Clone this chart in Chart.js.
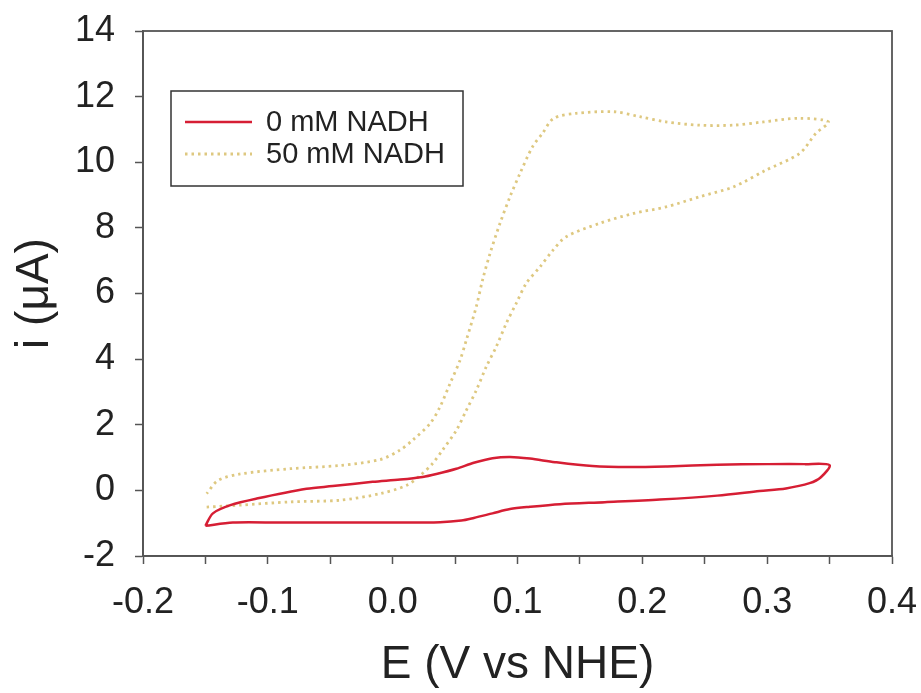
<!DOCTYPE html>
<html>
<head>
<meta charset="utf-8">
<script src="https://cdn.jsdelivr.net/npm/chart.js@4/dist/chart.umd.min.js"></script>
<style>
	body { margin: 0; background: #fff; }
	#wrap { width: 921px; height: 693px; position: relative; }
</style>
</head>
<body>
<div id="wrap"><canvas id="cv_chart"></canvas></div>
<script>
// axis ticks
var x_ticks = [-0.2, -0.1, 0.0, 0.1, 0.2, 0.3, 0.4];
var y_ticks = [-2, 0, 2, 4, 6, 8, 10, 12, 14];

var series_names = ['0 mM NADH', '50 mM NADH'];

// 0 mM NADH (E in V, i in uA)
var e_0mm = [-0.150, -0.128, -0.090, -0.045, 0.000, 0.038, 0.055, 0.065, 0.080, 0.094, 0.110, 0.134, 0.170, 0.214, 0.260, 0.294, 0.315, 0.334, 0.343, 0.350,
	0.330, 0.300, 0.260, 0.220, 0.190, 0.160, 0.130, 0.110, 0.094, 0.080, 0.065, 0.051, 0.035, 0.024, 0.006, -0.016, -0.048, -0.069, -0.109, -0.130, -0.144, -0.150];
var i_0mm = [-1.08, -0.98, -0.98, -0.98, -0.98, -0.97, -0.92, -0.84, -0.70, -0.57, -0.50, -0.42, -0.36, -0.28, -0.16, -0.02, 0.06, 0.22, 0.40, 0.77,
	0.80, 0.80, 0.78, 0.73, 0.71, 0.74, 0.86, 0.97, 1.02, 0.98, 0.84, 0.66, 0.50, 0.41, 0.33, 0.26, 0.13, 0.05, -0.25, -0.45, -0.70, -1.08];

// 50 mM NADH
var e_50mm = [-0.149, -0.122, -0.082, -0.042, -0.010, 0.011, 0.022, 0.032, 0.040, 0.051, 0.059, 0.067, 0.075, 0.083, 0.091, 0.099, 0.107, 0.118, 0.128, 0.139,
	0.166, 0.193, 0.219, 0.246, 0.273, 0.299, 0.326, 0.339, 0.349,
	0.326, 0.297, 0.273, 0.246, 0.219, 0.198, 0.177, 0.147, 0.129, 0.120, 0.112, 0.102, 0.094, 0.086, 0.078, 0.072, 0.067, 0.059, 0.054, 0.046, 0.038, 0.030, 0.016, 0.006,
	-0.010, -0.042, -0.082, -0.122, -0.140, -0.149];
var i_50mm = [-0.51, -0.45, -0.35, -0.30, -0.10, 0.15, 0.45, 0.82, 1.23, 1.83, 2.44, 3.05, 3.77, 4.38, 5.09, 5.70, 6.31, 6.81, 7.30, 7.73,
	8.14, 8.44, 8.64, 8.95, 9.25, 9.76, 10.27, 10.88, 11.23,
	11.34, 11.23, 11.13, 11.13, 11.23, 11.39, 11.54, 11.49, 11.34, 10.88, 10.47, 9.66, 8.95, 8.14, 7.22, 6.41, 5.60, 4.58, 3.97, 3.26, 2.55, 2.04, 1.53, 1.23,
	0.94, 0.76, 0.66, 0.50, 0.30, -0.10];

function to_points(xs, ys) {
	var pts = [];
	for (var i = 0; i < xs.length; i++) {
		pts.push({x: xs[i], y: ys[i]});
	}
	return pts;
}

var FONT = "'Liberation Sans', Arial, sans-serif";
var red_color = 'rgb(214, 30, 52)';
var dot_color = 'rgb(222, 200, 128)';

// box round the plot area + legend inside it
var frame_and_legend = {
	id: 'frame_and_legend',
	afterDraw: function(chart) {
		var ctx = chart.ctx;
		var a = chart.chartArea;
		ctx.save();
		ctx.strokeStyle = '#555';
		ctx.lineWidth = 1.8;
		ctx.strokeRect(a.left, a.top, a.right - a.left, a.bottom - a.top);

		var bx = a.left + 28, by = a.top + 60, bw = 292, bh = 95;
		ctx.strokeStyle = '#333';
		ctx.lineWidth = 1.5;
		ctx.strokeRect(bx, by, bw, bh);

		var styles = chart.data.datasets;
		for (var k = 0; k < styles.length; k++) {
			var ly = by + 31 + k * 32;
			ctx.beginPath();
			ctx.strokeStyle = styles[k].borderColor;
			ctx.lineWidth = styles[k].borderWidth;
			ctx.setLineDash(styles[k].borderDash || []);
			ctx.moveTo(bx + 14, ly);
			ctx.lineTo(bx + 81, ly);
			ctx.stroke();
			ctx.setLineDash([]);
			ctx.fillStyle = '#222';
			ctx.font = '29px ' + FONT;
			ctx.textBaseline = 'middle';
			ctx.fillText(styles[k].label, bx + 95, ly + 1);
		}
		ctx.restore();
	}
};

function draw_cv_chart(canvas_id) {
	let ctx = document.getElementById(canvas_id);
	if (ctx == null) {
		return;
	}
	new Chart(ctx, {
		type: 'scatter',
		data: {
			datasets: [{
				label: series_names[0],
				data: to_points(e_0mm, i_0mm),
				showLine: true,
				borderColor: red_color,
				borderWidth: 2.5,
				tension: 0.3,
				pointRadius: 0,
				pointHoverRadius: 0,
			}, {
				label: series_names[1],
				data: to_points(e_50mm, i_50mm),
				showLine: true,
				borderColor: dot_color,
				borderWidth: 2.8,
				borderDash: [2.5, 4],
				tension: 0.3,
				pointRadius: 0,
				pointHoverRadius: 0,
			}]
		},
		options: {
			responsive: true,
			maintainAspectRatio: false,
			animation: false,
			layout: {
				padding: {top: 31, right: 29, bottom: 0, left: 0}
			},
			plugins: {
				legend: { display: false },
				tooltip: { enabled: false }
			},
			scales: {
				x: {
					type: 'linear',
					min: x_ticks[0],
					max: x_ticks[x_ticks.length - 1],
					afterFit: function(s) {
						s.height = 137;
						// the layout padding already leaves room for the end labels
						s.paddingLeft = 0;
						s.paddingRight = 0;
					},
					afterBuildTicks: function(s) {
						// majors every 0.1 plus unlabelled minors in between
						var t = [];
						for (var i = 0; i < x_ticks.length; i++) {
							t.push({value: x_ticks[i]});
							if (i < x_ticks.length - 1) {
								t.push({value: (x_ticks[i] + x_ticks[i + 1]) / 2, minor: true});
							}
						}
						s.ticks = t;
					},
					ticks: {
						padding: 17,
						color: '#222',
						font: {family: FONT, size: 36},
						maxRotation: 0,
						autoSkip: false,
						callback: function(v) {
							var idx = x_ticks.findIndex(function(t) { return Math.abs(t - v) < 1e-6; });
							return idx < 0 ? '' : x_ticks[idx].toFixed(1);
						}
					},
					grid: {
						drawOnChartArea: false,
						drawTicks: true,
						tickLength: 8,
						tickColor: '#555',
						tickWidth: 1.5
					},
					border: { display: true, color: '#555', width: 1.8 },
					title: {
						display: true,
						text: 'E (V vs NHE)',
						color: '#222',
						font: {family: FONT, size: 46},
						padding: {top: 0, bottom: 0}
					}
				},
				y: {
					type: 'linear',
					min: y_ticks[0],
					max: y_ticks[y_ticks.length - 1],
					afterFit: function(s) {
						s.width = 143;
						s.paddingTop = 0;
						s.paddingBottom = 0;
					},
					afterBuildTicks: function(s) {
						s.ticks = y_ticks.map(function(v) { return {value: v}; });
					},
					ticks: {
						padding: 20,
						color: '#222',
						font: {family: FONT, size: 36},
						callback: function(v) { return String(v); }
					},
					grid: {
						drawOnChartArea: false,
						drawTicks: true,
						tickLength: 8,
						tickColor: '#555',
						tickWidth: 1.5
					},
					border: { display: true, color: '#555', width: 1.8 },
					title: {
						display: true,
						text: 'i (μA)',
						color: '#222',
						font: {family: FONT, size: 46},
						padding: {top: 8, bottom: 0}
					}
				}
			}
		},
		plugins: [frame_and_legend]
	});
}

draw_cv_chart('cv_chart');
</script>
</body>
</html>
